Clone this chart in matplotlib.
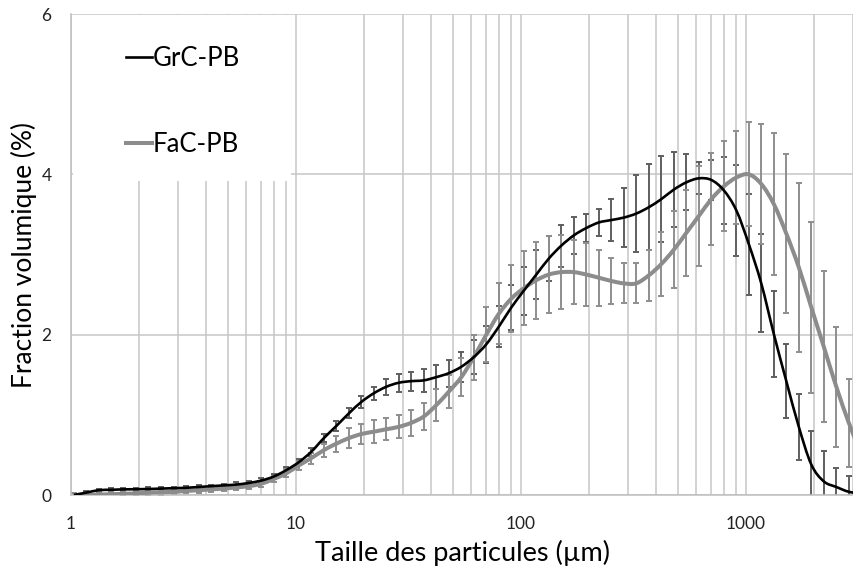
import numpy as np
import matplotlib
matplotlib.use('Agg')
import matplotlib.pyplot as plt
from matplotlib.path import Path
from matplotlib.patches import PathPatch, Rectangle
from matplotlib.lines import Line2D

plt.rcParams['font.family'] = ['Lato', 'DejaVu Sans']

# tailles des classes granulométriques (µm)
taille = [1.03, 1.17, 1.33, 1.51, 1.71, 1.95, 2.21, 2.52, 2.86, 3.25,
          3.70, 4.20, 4.77, 5.43, 6.17, 7.01, 7.96, 9.05, 10.3, 11.7,
          13.3, 15.1, 17.2, 19.5, 22.2, 25.2, 28.6, 32.5, 37.0, 42.0,
          47.8, 54.3, 61.7, 70.1, 79.7, 90.6, 103, 117, 133, 151,
          172, 195, 222, 252, 286, 325, 370, 420, 478, 543,
          617, 701, 797, 906, 1029, 1169, 1329, 1511, 1717, 1951,
          2217, 2520, 2864, 3255]

# fraction volumique moyenne (%)
grc_pb = [0.00, 0.03, 0.06, 0.065, 0.07, 0.072, 0.075, 0.08, 0.085, 0.09,
          0.10, 0.11, 0.12, 0.13, 0.15, 0.18, 0.23, 0.31, 0.41, 0.54,
          0.71, 0.86, 1.02, 1.16, 1.27, 1.35, 1.40, 1.42, 1.43, 1.47,
          1.52, 1.60, 1.72, 1.88, 2.10, 2.34, 2.55, 2.75, 2.95, 3.11,
          3.24, 3.33, 3.40, 3.43, 3.46, 3.51, 3.59, 3.69, 3.81, 3.90,
          3.95, 3.93, 3.80, 3.55, 3.13, 2.64, 2.01, 1.42, 0.85, 0.38,
          0.17, 0.10, 0.04, 0.02]
fac_pb = [0.00, 0.00, 0.005, 0.01, 0.015, 0.02, 0.03, 0.035, 0.04, 0.05,
          0.06, 0.07, 0.08, 0.095, 0.11, 0.14, 0.20, 0.27, 0.37, 0.46,
          0.56, 0.64, 0.71, 0.76, 0.79, 0.82, 0.85, 0.90, 0.98, 1.12,
          1.29, 1.47, 1.72, 2.00, 2.26, 2.45, 2.58, 2.68, 2.75, 2.78,
          2.78, 2.75, 2.71, 2.67, 2.64, 2.64, 2.74, 2.88, 3.06, 3.27,
          3.48, 3.69, 3.85, 3.96, 4.00, 3.88, 3.63, 3.26, 2.84, 2.34,
          1.85, 1.35, 0.90, 0.50]

# écarts-types
grc_err = [0.02, 0.02, 0.02, 0.02, 0.02, 0.02, 0.02, 0.02, 0.02, 0.02,
           0.02, 0.02, 0.02, 0.03, 0.03, 0.03, 0.03, 0.04, 0.04, 0.05,
           0.05, 0.06, 0.06, 0.07, 0.08, 0.10, 0.11, 0.12, 0.14, 0.15,
           0.17, 0.19, 0.21, 0.23, 0.26, 0.28, 0.30, 0.30, 0.28, 0.26,
           0.23, 0.18, 0.17, 0.26, 0.37, 0.48, 0.54, 0.54, 0.47, 0.35,
           0.20, 0.25, 0.42, 0.57, 0.63, 0.61, 0.54, 0.46, 0.41, 0.42,
           0.38, 0.24, 0.20, 0.10]
fac_err = [0.03, 0.03, 0.03, 0.03, 0.03, 0.03, 0.03, 0.03, 0.03, 0.03,
           0.03, 0.03, 0.03, 0.03, 0.035, 0.04, 0.04, 0.05, 0.06, 0.07,
           0.08, 0.10, 0.12, 0.13, 0.14, 0.14, 0.145, 0.16, 0.17, 0.20,
           0.21, 0.24, 0.28, 0.34, 0.38, 0.42, 0.46, 0.48, 0.48, 0.46,
           0.40, 0.39, 0.35, 0.29, 0.25, 0.25, 0.32, 0.40, 0.48, 0.54,
           0.62, 0.57, 0.56, 0.58, 0.65, 0.75, 0.88, 0.99, 1.05, 1.07,
           0.94, 0.75, 0.55, 0.40]

series = ['GrC-PB', 'FaC-PB']
line_colors = ['#000000', '#8c8c8c']
bar_colors = ['#5f5f5f', '#8e8e8e']


def courbe_lissee(xs, ys):
    # courbe de Bézier type "lissage" Excel, calculée en log(x)
    pts = np.column_stack([np.log10(xs), ys])
    p = np.vstack([pts[0], pts, pts[-1]])
    verts = [pts[0]]
    codes = [Path.MOVETO]
    for i in range(1, len(p) - 2):
        c1 = p[i] + (p[i + 1] - p[i - 1]) / 6
        c2 = p[i + 1] - (p[i + 2] - p[i]) / 6
        verts += [c1, c2, p[i + 1]]
        codes += [Path.CURVE4] * 3
    verts = np.array(verts)
    verts[:, 0] = 10 ** verts[:, 0]
    return Path(verts, codes)


fig = plt.figure(figsize=(8.54, 5.74), dpi=100)
ax = fig.add_axes([71 / 854, 1 - 495 / 574, 783 / 854, 481 / 574])

ax.set_xscale('log')
ax.set_xlim(1, 3020)
ax.set_ylim(0, 6)
ax.set_yticks([0, 2, 4, 6])
ax.set_xticks([1, 10, 100, 1000])
ax.set_xticklabels(['1', '10', '100', '1000'])
ax.xaxis.set_minor_locator(matplotlib.ticker.LogLocator(base=10, subs=np.arange(2, 10)))
ax.xaxis.set_minor_formatter(matplotlib.ticker.NullFormatter())

ax.set_axisbelow(True)
ax.grid(True, which='both', axis='x', color='#c6c6c6', lw=1.1)
ax.grid(True, which='major', axis='y', color='#c6c6c6', lw=1.1)
ax.tick_params(which='both', length=0, labelsize=12.5, colors='#222222')
ax.tick_params(axis='x', pad=15)
ax.tick_params(axis='y', pad=14)
for s in ['right', 'top']:
    ax.spines[s].set_visible(False)
for s in ['left', 'bottom']:
    ax.spines[s].set_color('#bfbfbf')
    ax.spines[s].set_linewidth(1.1)

# zone blanche derrière la légende
ax.add_patch(Rectangle((0.002, 0.653), 0.279, 0.345, transform=ax.transAxes,
                       facecolor='white', edgecolor='none', zorder=1))

err = [grc_err, fac_err]
moy = [grc_pb, fac_pb]
for k in range(2):
    ax.errorbar(taille, moy[k], yerr=err[k], fmt='none', ecolor=bar_colors[k],
                elinewidth=1.4, capsize=2.4, capthick=1.4, zorder=2)

widths = [1.9, 2.9]
for k in [1, 0]:
    ax.add_patch(PathPatch(courbe_lissee(taille, moy[k]), fill=False,
                           edgecolor=line_colors[k], lw=widths[k], zorder=3 + (1 - k)))

handles = [Line2D([], [], color=line_colors[k], lw=widths[k]) for k in range(2)]
ax.legend(handles, series, loc='upper left', bbox_to_anchor=(0.070, 0.933),
          frameon=False, fontsize=18.5, handlelength=1.0, handletextpad=0.05,
          labelspacing=2.35, borderpad=0, borderaxespad=0)

ax.set_xlabel('Taille des particules (µm)', fontsize=19.5)
ax.set_ylabel('Fraction volumique (%)', fontsize=19)
ax.xaxis.set_label_coords(0.5, -0.093)
ax.yaxis.set_label_coords(-0.043, 0.5)

fig.savefig('out.png', dpi=100)
